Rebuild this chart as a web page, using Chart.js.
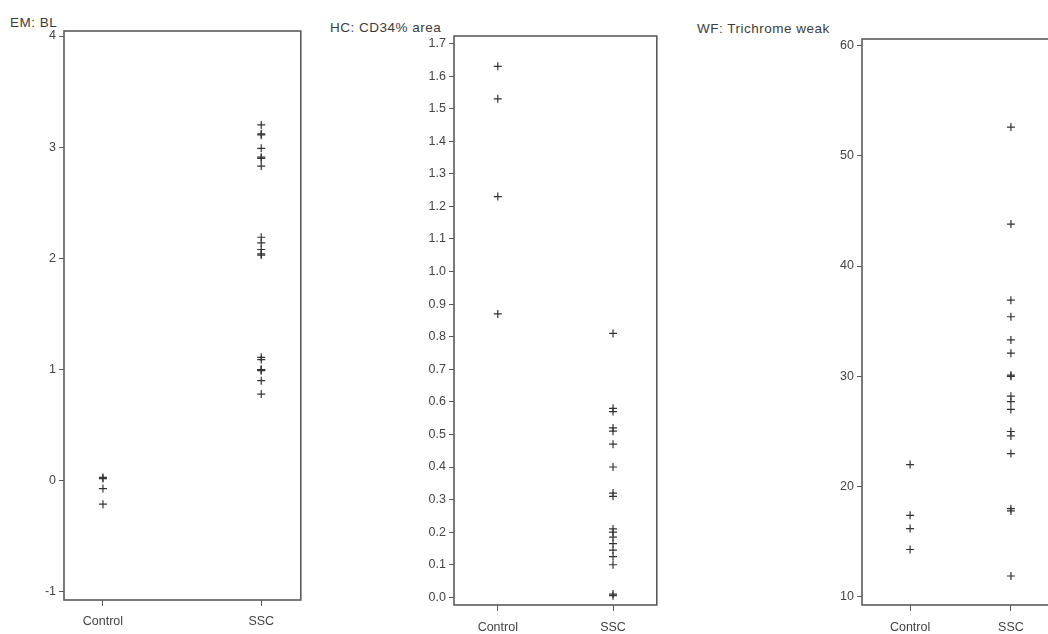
<!DOCTYPE html>
<html>
<head>
<meta charset="utf-8">
<script src="https://cdn.jsdelivr.net/npm/chart.js@4.4.1/dist/chart.umd.min.js"></script>
<style>
    body { margin: 0; width: 1048px; height: 634px; overflow: hidden; background: #fff; position: relative; }
    canvas { position: absolute; top: 0; }
    .ttl { position: absolute; font-family: "Liberation Sans", Arial, sans-serif; font-size: 13.5px; letter-spacing: 0.5px; color: #3c3c3c; white-space: nowrap; line-height: 14px; }
</style>
</head>
<body>
<div class="ttl" style="left:10px;top:16px">EM: BL</div>
<div class="ttl" style="left:330px;top:21px">HC: CD34% area</div>
<div class="ttl" style="left:697px;top:22px">WF: Trichrome weak</div>

<canvas id="c1" width="306" height="634" style="left:0"></canvas>
<canvas id="c2" width="272" height="634" style="left:390px"></canvas>
<canvas id="c3" width="270" height="634" style="left:800px"></canvas>

<script>
const groups = ['Control', 'SSC'];

// EM: BL
const emControl = [0.03, 0.02, -0.07, -0.21];
const emSsc = [3.2, 3.12, 3.11, 2.99, 2.91, 2.9, 2.83, 2.19, 2.14, 2.08, 2.04, 2.03, 1.11, 1.09, 1.0, 1.0, 0.99, 0.9, 0.78];
const emTicks = [-1, 0, 1, 2, 3, 4];

// HC: CD34% area
const hcControl = [1.63, 1.53, 1.23, 0.87];
const hcSsc = [0.81, 0.58, 0.57, 0.52, 0.51, 0.47, 0.40, 0.32, 0.31, 0.21, 0.20, 0.185, 0.165, 0.145, 0.125, 0.10, 0.01, 0.005];
const hcTicks = [0, 0.1, 0.2, 0.3, 0.4, 0.5, 0.6, 0.7, 0.8, 0.9, 1.0, 1.1, 1.2, 1.3, 1.4, 1.5, 1.6, 1.7];

// WF: Trichrome weak
const wfControl = [22, 17.4, 16.2, 14.3];
const wfSsc = [52.6, 43.8, 36.9, 35.4, 33.3, 32.1, 30.1, 30.0, 28.2, 27.7, 27.0, 25.0, 24.6, 23.0, 18.0, 17.8, 11.9];
const wfTicks = [10, 20, 30, 40, 50, 60];

const FONT = { family: '"Liberation Sans", Arial, sans-serif', size: 12.5 };
const INK = '#333';
const AXIS = '#5a5a5a';

// box around the plot area
const boxPlugin = {
    id: 'box',
    afterDraw(chart) {
        const { ctx, chartArea: a } = chart;
        ctx.save();
        ctx.strokeStyle = AXIS;
        ctx.lineWidth = 1.6;
        ctx.strokeRect(a.left, a.top, a.right - a.left, a.bottom - a.top);
        ctx.restore();
    }
};

function makePanel(id, opts) {
    const points = [
        ...opts.control.map(v => ({ x: 1, y: v })),
        ...opts.ssc.map(v => ({ x: 2, y: v }))
    ];

    return new Chart(document.getElementById(id), {
        type: 'scatter',
        data: {
            datasets: [{
                data: points,
                pointStyle: 'cross',
                radius: 4,
                borderColor: INK,
                borderWidth: 1.2
            }]
        },
        plugins: [boxPlugin],
        options: {
            responsive: false,
            animation: false,
            layout: { padding: { top: opts.top, right: opts.right, left: 0, bottom: 0 } },
            plugins: { legend: { display: false }, tooltip: { enabled: false } },
            scales: {
                x: {
                    type: 'linear',
                    min: opts.xMin,
                    max: opts.xMax,
                    afterBuildTicks: s => { s.ticks = [{ value: 1 }, { value: 2 }]; },
                    afterFit: s => { s.height = opts.xHeight; },
                    border: { display: false },
                    grid: { drawOnChartArea: false, drawTicks: true, tickLength: 6, color: AXIS, lineWidth: 1 },
                    ticks: {
                        padding: opts.xPad,
                        color: '#444',
                        font: FONT,
                        maxRotation: 0,
                        callback: v => groups[v - 1]
                    }
                },
                y: {
                    min: opts.yMin,
                    max: opts.yMax,
                    afterBuildTicks: s => { s.ticks = opts.ticks.map(value => ({ value })); },
                    afterFit: s => { s.width = opts.yWidth; },
                    border: { display: false },
                    grid: { drawOnChartArea: false, drawTicks: true, tickLength: 5, color: AXIS, lineWidth: 1 },
                    ticks: {
                        padding: 3,
                        color: '#444',
                        font: FONT,
                        callback: v => opts.decimals ? Number(v).toFixed(opts.decimals) : String(v)
                    }
                }
            }
        }
    });
}

makePanel('c1', {
    control: emControl, ssc: emSsc, ticks: emTicks,
    yMin: -1.072, yMax: 4.045, xMin: 0.754, xMax: 2.25,
    yWidth: 64, xHeight: 34, top: 31, right: 4, xPad: 8, decimals: 0
});

makePanel('c2', {
    control: hcControl, ssc: hcSsc, ticks: hcTicks,
    yMin: -0.0236, yMax: 1.723, xMin: 0.62, xMax: 2.38,
    yWidth: 64, xHeight: 29, top: 36, right: 5, xPad: 9, decimals: 1
});

makePanel('c3', {
    control: wfControl, ssc: wfSsc, ticks: wfTicks,
    yMin: 9.27, yMax: 60.58, xMin: 0.523, xMax: 2.477,
    yWidth: 62, xHeight: 29, top: 39, right: 11, xPad: 9, decimals: 0
});
</script>
</body>
</html>
